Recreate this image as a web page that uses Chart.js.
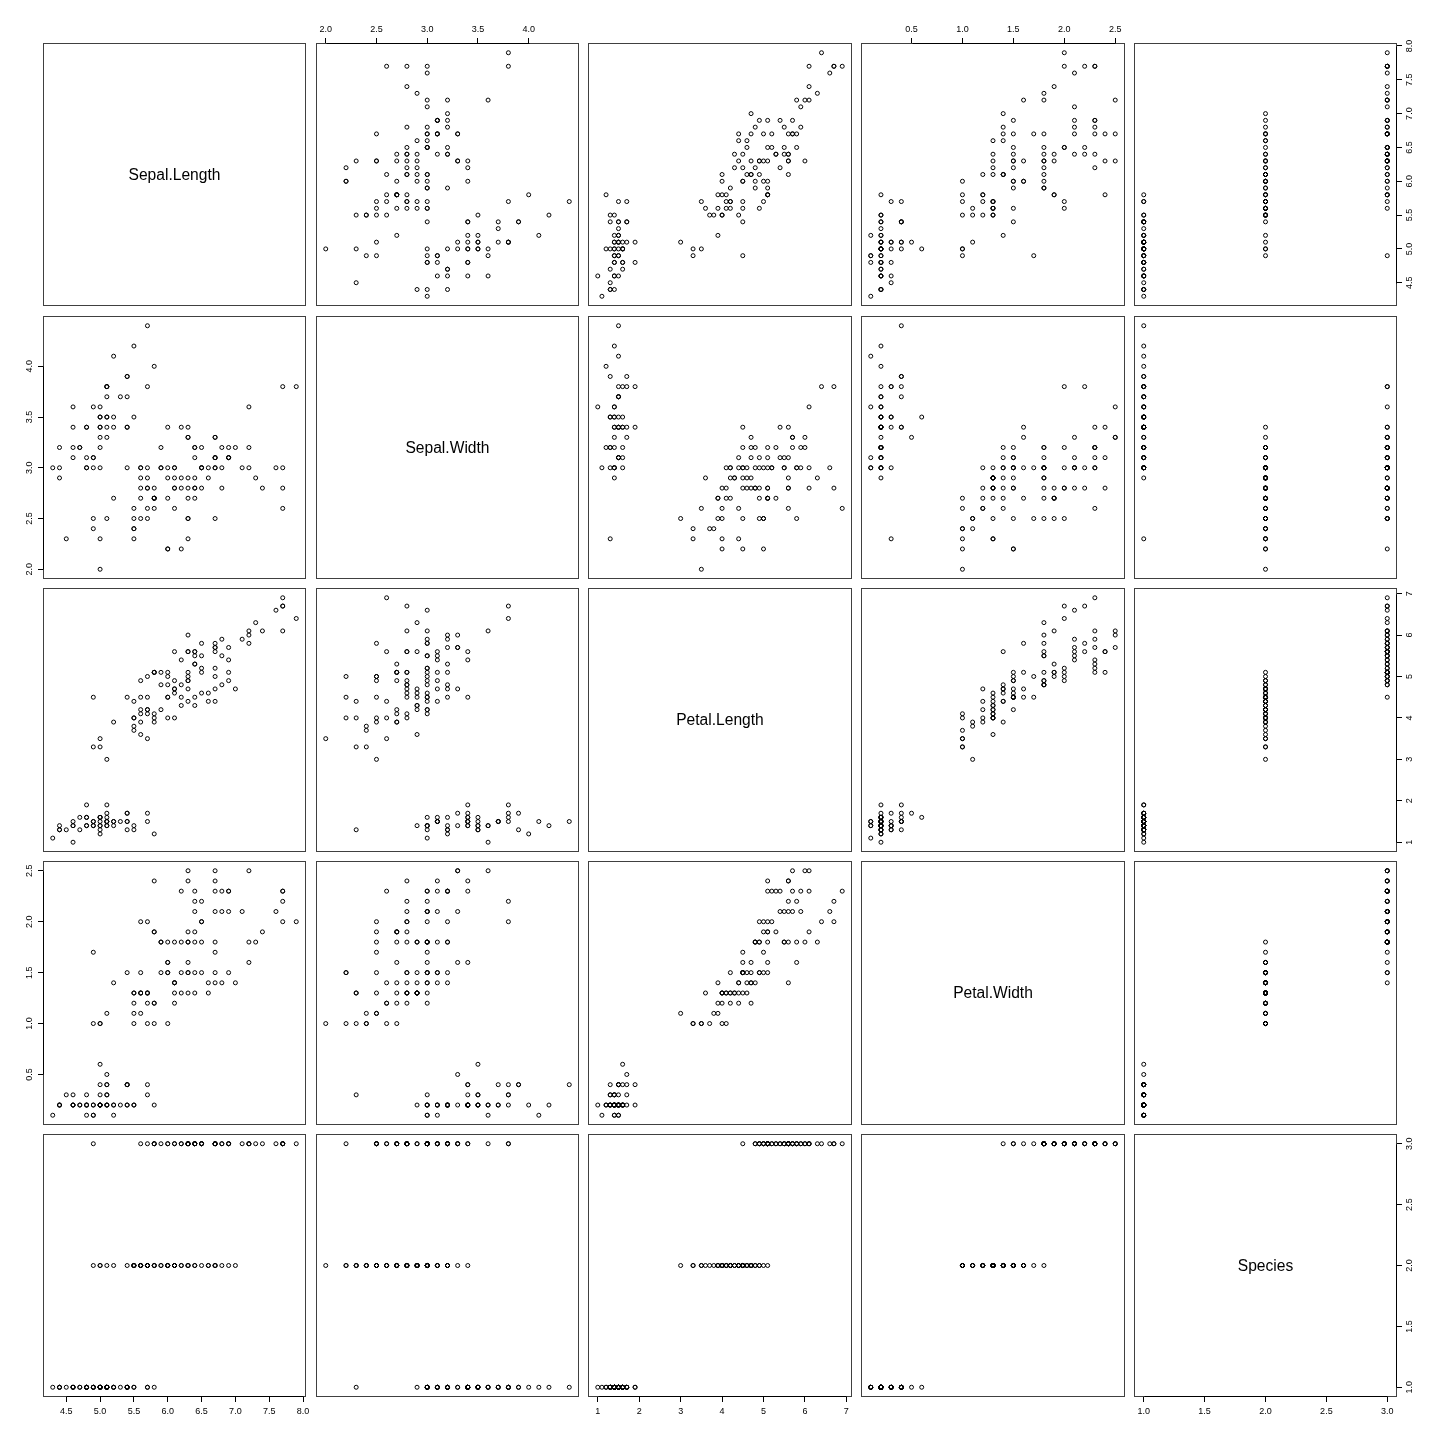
<!DOCTYPE html>
<html><head><meta charset="utf-8">
<script src="https://cdn.jsdelivr.net/npm/chart.js@4/dist/chart.umd.min.js"></script>
<style>
html,body{margin:0;padding:0;background:#fff;}
#wrap{position:relative;width:1440px;height:1440px;overflow:hidden;background:#fff}
#wrap canvas{position:absolute}
.diag{position:absolute;display:flex;align-items:center;justify-content:center;font-family:"Liberation Sans",Arial,sans-serif;font-size:15.6px;color:#000}
</style></head>
<body><div id="wrap"></div>
<script>
// ---------- data (iris) ----------
const variableNames = ["Sepal.Length","Sepal.Width","Petal.Length","Petal.Width","Species"];
const sepalLength = [5.1,4.9,4.7,4.6,5.0,5.4,4.6,5.0,4.4,4.9,5.4,4.8,4.8,4.3,5.8,5.7,5.4,5.1,5.7,5.1,5.4,5.1,4.6,5.1,4.8,5.0,5.0,5.2,5.2,4.7,4.8,5.4,5.2,5.5,4.9,5.0,5.5,4.9,4.4,5.1,5.0,4.5,4.4,5.0,5.1,4.8,5.1,4.6,5.3,5.0,
7.0,6.4,6.9,5.5,6.5,5.7,6.3,4.9,6.6,5.2,5.0,5.9,6.0,6.1,5.6,6.7,5.6,5.8,6.2,5.6,5.9,6.1,6.3,6.1,6.4,6.6,6.8,6.7,6.0,5.7,5.5,5.5,5.8,6.0,5.4,6.0,6.7,6.3,5.6,5.5,5.5,6.1,5.8,5.0,5.6,5.7,5.7,6.2,5.1,5.7,
6.3,5.8,7.1,6.3,6.5,7.6,4.9,7.3,6.7,7.2,6.5,6.4,6.8,5.7,5.8,6.4,6.5,7.7,7.7,6.0,6.9,5.6,7.7,6.3,6.7,7.2,6.2,6.1,6.4,7.2,7.4,7.9,6.4,6.3,6.1,7.7,6.3,6.4,6.0,6.9,6.7,6.9,5.8,6.8,6.7,6.7,6.3,6.5,6.2,5.9];
const sepalWidth = [3.5,3.0,3.2,3.1,3.6,3.9,3.4,3.4,2.9,3.1,3.7,3.4,3.0,3.0,4.0,4.4,3.9,3.5,3.8,3.8,3.4,3.7,3.6,3.3,3.4,3.0,3.4,3.5,3.4,3.2,3.1,3.4,4.1,4.2,3.1,3.2,3.5,3.6,3.0,3.4,3.5,2.3,3.2,3.5,3.8,3.0,3.8,3.2,3.7,3.3,
3.2,3.2,3.1,2.3,2.8,2.8,3.3,2.4,2.9,2.7,2.0,3.0,2.2,2.9,2.9,3.1,3.0,2.7,2.2,2.5,3.2,2.8,2.5,2.8,2.9,3.0,2.8,3.0,2.9,2.6,2.4,2.4,2.7,2.7,3.0,3.4,3.1,2.3,3.0,2.5,2.6,3.0,2.6,2.3,2.7,3.0,2.9,2.9,2.5,2.8,
3.3,2.7,3.0,2.9,3.0,3.0,2.5,2.9,2.5,3.6,3.2,2.7,3.0,2.5,2.8,3.2,3.0,3.8,2.6,2.2,3.2,2.8,2.8,2.7,3.3,3.2,2.8,3.0,2.8,3.0,2.8,3.8,2.8,2.8,2.6,3.0,3.4,3.1,3.0,3.1,3.1,3.1,2.7,3.2,3.3,3.0,2.5,3.0,3.4,3.0];
const petalLength = [1.4,1.4,1.3,1.5,1.4,1.7,1.4,1.5,1.4,1.5,1.5,1.6,1.4,1.1,1.2,1.5,1.3,1.4,1.7,1.5,1.7,1.5,1.0,1.7,1.9,1.6,1.6,1.5,1.4,1.6,1.6,1.5,1.5,1.4,1.5,1.2,1.3,1.4,1.3,1.5,1.3,1.3,1.3,1.6,1.9,1.4,1.6,1.4,1.5,1.4,
4.7,4.5,4.9,4.0,4.6,4.5,4.7,3.3,4.6,3.9,3.5,4.2,4.0,4.7,3.6,4.4,4.5,4.1,4.5,3.9,4.8,4.0,4.9,4.7,4.3,4.4,4.8,5.0,4.5,3.5,3.8,3.7,3.9,5.1,4.5,4.5,4.7,4.4,4.1,4.0,4.4,4.6,4.0,3.3,4.2,4.2,4.2,4.3,3.0,4.1,
6.0,5.1,5.9,5.6,5.8,6.6,4.5,6.3,5.8,6.1,5.1,5.3,5.5,5.0,5.1,5.3,5.5,6.7,6.9,5.0,5.7,4.9,6.7,4.9,5.7,6.0,4.8,4.9,5.6,5.8,6.1,6.4,5.6,5.1,5.6,6.1,5.6,5.5,4.8,5.4,5.6,5.1,5.1,5.9,5.7,5.2,5.0,5.2,5.4,5.1];
const petalWidth = [0.2,0.2,0.2,0.2,0.2,0.4,0.3,0.2,0.2,0.1,0.2,0.2,0.1,0.1,0.2,0.4,0.4,0.3,0.3,0.3,0.2,0.4,0.2,0.5,0.2,0.2,0.4,0.2,0.2,0.2,0.2,0.4,0.1,0.2,0.2,0.2,0.2,0.1,0.2,0.2,0.3,0.3,0.2,0.6,0.4,0.3,0.2,0.2,0.2,0.2,
1.4,1.5,1.5,1.3,1.5,1.3,1.6,1.0,1.3,1.4,1.0,1.5,1.0,1.4,1.3,1.4,1.5,1.0,1.5,1.1,1.8,1.3,1.5,1.2,1.3,1.4,1.4,1.7,1.5,1.0,1.1,1.0,1.2,1.6,1.5,1.6,1.5,1.3,1.3,1.3,1.2,1.4,1.2,1.0,1.3,1.2,1.3,1.3,1.1,1.3,
2.5,1.9,2.1,1.8,2.2,2.1,1.7,1.8,1.8,2.5,2.0,1.9,2.1,2.0,2.4,2.3,1.8,2.2,2.3,1.5,2.3,2.0,2.0,1.8,2.1,1.8,1.8,1.8,2.1,1.6,1.9,2.0,2.2,1.5,1.4,2.3,2.4,1.8,1.8,2.1,2.4,2.3,1.9,2.3,2.5,2.3,1.9,2.0,2.3,1.8];
const species = [1,1,1,1,1,1,1,1,1,1,1,1,1,1,1,1,1,1,1,1,1,1,1,1,1,1,1,1,1,1,1,1,1,1,1,1,1,1,1,1,1,1,1,1,1,1,1,1,1,1,
2,2,2,2,2,2,2,2,2,2,2,2,2,2,2,2,2,2,2,2,2,2,2,2,2,2,2,2,2,2,2,2,2,2,2,2,2,2,2,2,2,2,2,2,2,2,2,2,2,2,
3,3,3,3,3,3,3,3,3,3,3,3,3,3,3,3,3,3,3,3,3,3,3,3,3,3,3,3,3,3,3,3,3,3,3,3,3,3,3,3,3,3,3,3,3,3,3,3,3,3];

// ---------- tick labels ----------
const sepalLengthTicks = ["4.5","5.0","5.5","6.0","6.5","7.0","7.5","8.0"];
const sepalWidthTicks  = ["2.0","2.5","3.0","3.5","4.0"];
const petalLengthTicks = ["1","2","3","4","5","6","7"];
const petalWidthTicks  = ["0.5","1.0","1.5","2.0","2.5"];
const speciesTicks     = ["1.0","1.5","2.0","2.5","3.0"];

const variables = [sepalLength, sepalWidth, petalLength, petalWidth, species];
const tickSets = [sepalLengthTicks, sepalWidthTicks, petalLengthTicks, petalWidthTicks, speciesTicks];

// ---------- layout / style ----------
const PANEL_ORIGIN = 42.7, PANEL_PITCH = 272.8, PANEL_SIZE = 263.5, MARGIN = 40;
const TICK_LEN = 5;
const FONT_FAMILY = "'Liberation Sans', Arial, Helvetica, sans-serif";
const TICK_FONT_SIZE = 9;
const FRAME_COLOR = '#404040';

Chart.defaults.font.family = FONT_FAMILY;
Chart.defaults.font.size = TICK_FONT_SIZE;

function edgeStart(i){ return Math.round(PANEL_ORIGIN + i*PANEL_PITCH); }
function edgeEnd(i){ return Math.round(PANEL_ORIGIN + PANEL_SIZE + i*PANEL_PITCH); }

// R-style axis range: data range extended 4% each side
function rangeOf(arr){
  const mn = Math.min(...arr), mx = Math.max(...arr), d = (mx-mn)*0.04;
  return [mn-d, mx+d];
}
const ranges = variables.map(rangeOf);

const measureCtx = document.createElement('canvas').getContext('2d');
measureCtx.font = TICK_FONT_SIZE + 'px ' + FONT_FAMILY;
function widestLabel(labels){ return Math.max(...labels.map(l => measureCtx.measureText(l).width)); }

function axisConfig(varIdx, axis, position, shown){
  const labels = tickSets[varIdx];
  const [mn, mx] = ranges[varIdx];
  const cfg = {
    type: 'linear', position, min: mn, max: mx, bounds: 'data', display: shown,
    border: { display: false },
    grid: { display: true, drawOnChartArea: false, drawTicks: true, tickLength: TICK_LEN, color: '#000', lineWidth: 1 },
    ticks: { autoSkip: false, color: '#000', font: { size: TICK_FONT_SIZE, family: FONT_FAMILY },
             callback: (v, i) => labels[i] },
    afterBuildTicks: s => { s.ticks = labels.map(t => ({ value: Number(t) })); },
    afterFit: s => {
      const size = shown ? MARGIN : 0;
      if (axis === 'x') s.height = size; else s.width = size;
    }
  };
  if (axis === 'y') {
    cfg.ticks.minRotation = 90; cfg.ticks.maxRotation = 90; cfg.ticks.crossAlign = 'center';
    const want = position === 'left' ? 13.5 : 12.5;
    cfg.ticks.padding = want - TICK_LEN - widestLabel(labels)/2;
  } else {
    cfg.ticks.padding = position === 'bottom' ? 4.6 : 2.9;
  }
  return cfg;
}

const framePlugin = {
  id: 'frame',
  afterDraw(chart){
    const { ctx, chartArea: a } = chart;
    ctx.save();
    ctx.strokeStyle = FRAME_COLOR; ctx.lineWidth = 1;
    ctx.strokeRect(a.left + 0.5, a.top + 0.5, a.right - a.left - 1, a.bottom - a.top - 1);
    // axis line between first and last tick (black), like R's axis()
    ctx.strokeStyle = '#000';
    ['x','y'].forEach(id => {
      const s = chart.scales[id];
      if (!s || !s.options.display) return;
      const t = s.ticks;
      const p0 = s.getPixelForValue(t[0].value), p1 = s.getPixelForValue(t[t.length-1].value);
      ctx.beginPath();
      if (id === 'x') {
        const y = s.options.position === 'top' ? a.top + 0.5 : a.bottom - 0.5;
        ctx.moveTo(Math.round(p0) + 0.5, y); ctx.lineTo(Math.round(p1) + 0.5, y);
      } else {
        const x = s.options.position === 'left' ? a.left + 0.5 : a.right - 0.5;
        ctx.moveTo(x, Math.round(p0) + 0.5); ctx.lineTo(x, Math.round(p1) + 0.5);
      }
      ctx.stroke();
    });
    ctx.restore();
  }
};

const wrap = document.getElementById('wrap');
for (let r = 0; r < 5; r++) {
  for (let c = 0; c < 5; c++) {
    const pl = edgeStart(c), pr = edgeEnd(c), pt = edgeStart(r), pb = edgeEnd(r);
    const xTop = (r === 0 && c % 2 === 1);
    const xBottom = (r === 4 && c % 2 === 0);
    const yLeft = (c === 0 && r % 2 === 1);
    const yRight = (c === 4 && r % 2 === 0);

    const canvas = document.createElement('canvas');
    const w = pr - pl + 2*MARGIN, h = pb - pt + 2*MARGIN;
    canvas.width = w; canvas.height = h;
    canvas.style.left = (pl - MARGIN) + 'px'; canvas.style.top = (pt - MARGIN) + 'px';
    canvas.style.width = w + 'px'; canvas.style.height = h + 'px';
    wrap.appendChild(canvas);

    const data = (r === c) ? [] : variables[c].map((v, i) => ({ x: v, y: variables[r][i] }));

    new Chart(canvas, {
      type: 'scatter',
      data: { datasets: [{ data, pointStyle: 'circle', pointRadius: 2, pointHoverRadius: 2,
                           borderColor: '#000', backgroundColor: 'rgba(0,0,0,0)', borderWidth: 1 }] },
      options: {
        responsive: false, animation: false, devicePixelRatio: 1, events: [],
        layout: { padding: { left: yLeft ? 0 : MARGIN, right: yRight ? 0 : MARGIN,
                             top: xTop ? 0 : MARGIN, bottom: xBottom ? 0 : MARGIN } },
        plugins: { legend: { display: false }, tooltip: { enabled: false } },
        scales: {
          x: axisConfig(c, 'x', xTop ? 'top' : 'bottom', xTop || xBottom),
          y: axisConfig(r, 'y', yRight ? 'right' : 'left', yLeft || yRight)
        }
      },
      plugins: [framePlugin]
    });

    if (r === c) {
      const d = document.createElement('div');
      d.className = 'diag';
      d.style.left = pl + 'px'; d.style.top = pt + 'px';
      d.style.width = (pr - pl) + 'px'; d.style.height = (pb - pt) + 'px';
      d.textContent = variableNames[r];
      wrap.appendChild(d);
    }
  }
}
</script>
</body></html>
